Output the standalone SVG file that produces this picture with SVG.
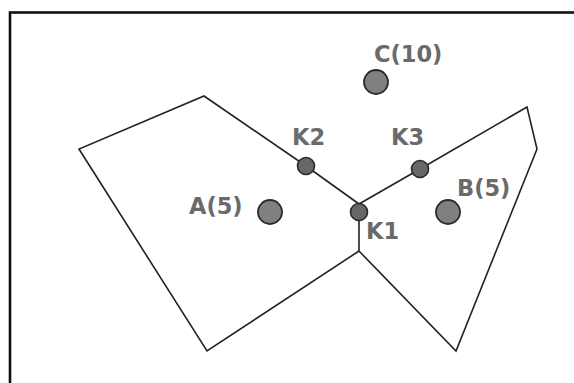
<svg xmlns="http://www.w3.org/2000/svg" width="574" height="383" viewBox="0 0 574 383">
<style>
.edge{fill:none;stroke:#222;stroke-width:1.6;stroke-linejoin:miter}
.site{fill:#808080;stroke:#2a2a2a;stroke-width:1.8}
.knot{fill:#676767;stroke:#2a2a2a;stroke-width:1.6}
.lbl{font-family:"DejaVu Sans",Verdana,sans-serif;font-weight:bold;font-size:22.5px;fill:#6a6a6a}
</style>
<rect x="0" y="0" width="574" height="383" fill="#fff"/>
<rect x="10" y="12.5" width="620" height="420" fill="none" stroke="#111" stroke-width="2.6"/>
<g id="connectors">
<polyline class="edge" points="359,251 207,351 79,149 204,96 306,166 359,204"/>
<polyline class="edge" points="359,204 420,169 527,107 537,149 456,351 359,251 359,212"/>
</g>
<g id="C"><circle class="site" cx="376" cy="82" r="12"/><text class="lbl" x="374" y="62">C(10)</text></g>
<g id="A"><circle class="site" cx="270" cy="212" r="12"/><text class="lbl" x="189" y="214">A(5)</text></g>
<g id="B"><circle class="site" cx="448" cy="212" r="12"/><text class="lbl" x="457" y="196">B(5)</text></g>
<g id="K2"><circle class="knot" cx="306" cy="166" r="8.5"/><text class="lbl" x="292" y="145">K2</text></g>
<g id="K3"><circle class="knot" cx="420" cy="169" r="8.5"/><text class="lbl" x="391" y="145">K3</text></g>
<g id="K1"><circle class="knot" cx="359" cy="212" r="8.5"/><text class="lbl" x="366" y="239">K1</text></g>
</svg>
